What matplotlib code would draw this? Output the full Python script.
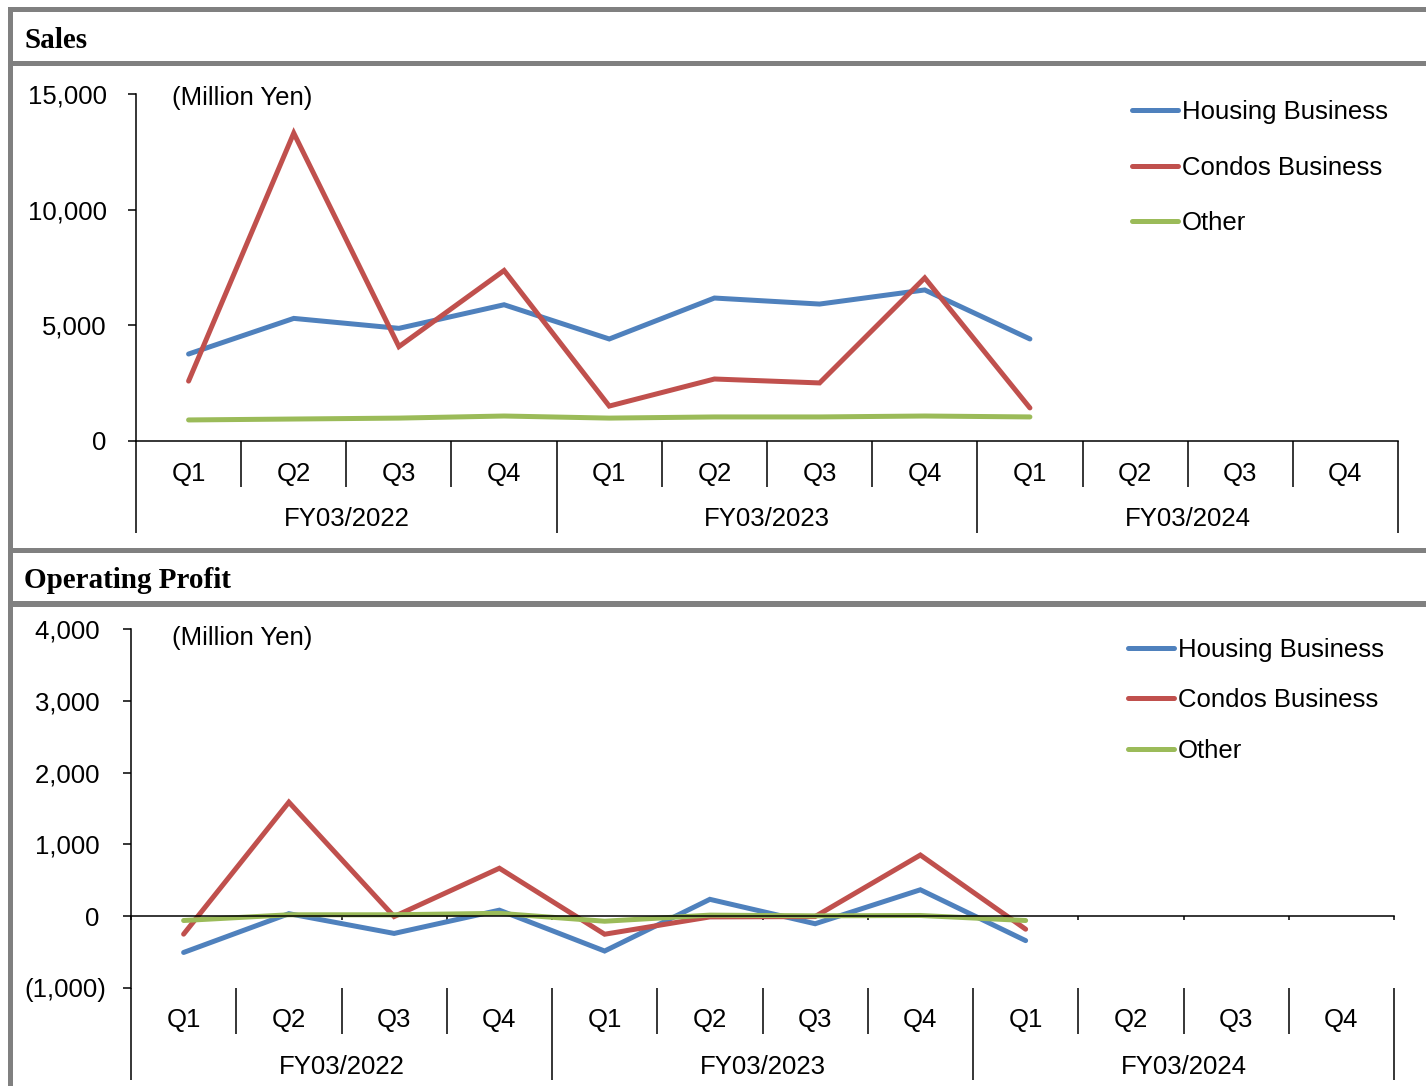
import matplotlib
matplotlib.use("Agg")
import matplotlib.pyplot as plt
from matplotlib.patches import Rectangle
from matplotlib.ticker import FuncFormatter
from matplotlib.lines import Line2D

plt.rcParams['font.family'] = ['Liberation Sans', 'DejaVu Sans']

quarters = ["Q1", "Q2", "Q3", "Q4"] * 3
years = ["FY03/2022", "FY03/2023", "FY03/2024"]
series_names = ["Housing Business", "Condos Business", "Other"]
series_colors = ["#4F81BD", "#C0504D", "#9BBB59"]

# sales by segment (million yen), quarters reported so far
sales_housing = [3760, 5300, 4870, 5890, 4410, 6180, 5920, 6530, 4410]
sales_condos = [2590, 13310, 4080, 7370, 1510, 2680, 2510, 7050, 1430]
sales_other = [910, 950, 990, 1080, 990, 1040, 1040, 1080, 1040]

# operating profit by segment (million yen)
op_housing = [-505, 35, -240, 84, -485, 235, -105, 368, -340]
op_condos = [-250, 1588, -5, 668, -251, -10, -5, 852, -181]
op_other = [-60, 20, 20, 40, -70, 15, 5, 10, -60]

W, H = 1426, 1086
FS = 18.5
LW = 3.6
GRAY = "#808080"

fig = plt.figure(figsize=(W / 100, H / 100), dpi=100)

# background frame and title bars, in pixel units
bg = fig.add_axes([0, 0, 1, 1])
bg.set_xlim(0, W)
bg.set_ylim(H, 0)
bg.axis("off")
for (x0, y0, w, h) in [(8, 7, W, 5), (8, 7, 5, H), (8, 61, W, 5),
                       (8, 548, W, 5), (8, 601, W, 6)]:
    bg.add_patch(Rectangle((x0, y0), w, h, color=GRAY, lw=0))
bg.text(24, 40, "Sales", family="Liberation Serif", weight="bold",
        fontsize=21, va="center", ha="left")
bg.text(24, 580, "Operating Profit", family="Liberation Serif", weight="bold",
        fontsize=21, va="center", ha="left")


def px_axes(left, top, right, bottom):
    return fig.add_axes([left / W, 1 - bottom / H, (right - left) / W,
                         (bottom - top) / H])


def yen_fmt(v, _):
    return f"{v:,.0f}"


def yen_fmt_paren(v, _):
    # accounting style: negatives in brackets, positives padded to line up
    if v < 0:
        return f"({-v:,.0f})"
    return f"{v:,.0f} "


def draw_categories(ax, height_px):
    tr = ax.get_xaxis_transform()
    n = len(quarters)
    for i in range(n + 1):
        b = i - 0.5
        depth = 92 if i % 4 == 0 else 46
        ax.plot([b, b], [0, -depth / height_px], transform=tr, color="black",
                lw=1.1, clip_on=False, solid_capstyle="butt")
    for i, q in enumerate(quarters):
        ax.text(i, -32.5 / height_px, q, transform=tr, ha="center",
                va="center", fontsize=FS)
    for j, y in enumerate(years):
        ax.text(j * 4 + 1.5, -78.5 / height_px, y, transform=tr, ha="center",
                va="center", fontsize=FS)


def draw_panel(ax, width_px, height_px, data, ymin, ymax, step, fmt, pad,
               unit_pos, leg_anchor, leg_space):
    for vals, name, c in zip(data, series_names, series_colors):
        ax.plot(range(len(vals)), vals, color=c, lw=LW, label=name,
                solid_capstyle="round", solid_joinstyle="miter")
    ax.set_xlim(-0.5, len(quarters) - 0.5)
    ax.set_ylim(ymin, ymax)
    ax.set_yticks(range(ymin, ymax + 1, step))
    ax.yaxis.set_major_formatter(FuncFormatter(fmt))
    ax.tick_params(axis="y", direction="out", length=6, width=1.1, pad=pad,
                   labelsize=FS)
    ax.spines["top"].set_visible(False)
    ax.spines["right"].set_visible(False)
    ax.spines["left"].set_linewidth(1.1)
    ax.spines["bottom"].set_linewidth(1.1)
    ax.patch.set_alpha(0)
    ax.text(unit_pos[0] / width_px, 1 - unit_pos[1] / height_px,
            "(Million Yen)", transform=ax.transAxes,
            fontsize=FS, ha="left", va="center")
    handles = [Line2D([], [], color=c, lw=LW, solid_capstyle="round")
               for c in series_colors]
    ax.legend(handles, series_names, loc="upper left",
              bbox_to_anchor=leg_anchor, frameon=False, fontsize=FS,
              handlelength=1.8, handletextpad=0.16, labelspacing=leg_space,
              borderaxespad=0, borderpad=0)
    draw_categories(ax, height_px)


# sales panel
ax1 = px_axes(136, 94, 1398, 441)
draw_panel(ax1, 1262, 347, [sales_housing, sales_condos, sales_other],
           0, 15000, 5000, yen_fmt, 15, (36, 4), (0.789, 0.982), 1.23)
ax1.set_xticks([])

# operating profit panel: category axis crosses at zero
ax2 = px_axes(131, 629, 1394, 988)
draw_panel(ax2, 1263, 359, [op_housing, op_condos, op_other],
           -1000, 4000, 1000, yen_fmt_paren, 11.5, (41, 9), (0.789, 0.975),
           1.03)
ax2.spines["bottom"].set_position(("data", 0))
ax2.set_xticks([i - 0.5 for i in range(len(quarters) + 1)])
ax2.tick_params(axis="x", direction="out", length=3, width=1.1,
                labelbottom=False)

fig.savefig("out.png", dpi=100)
